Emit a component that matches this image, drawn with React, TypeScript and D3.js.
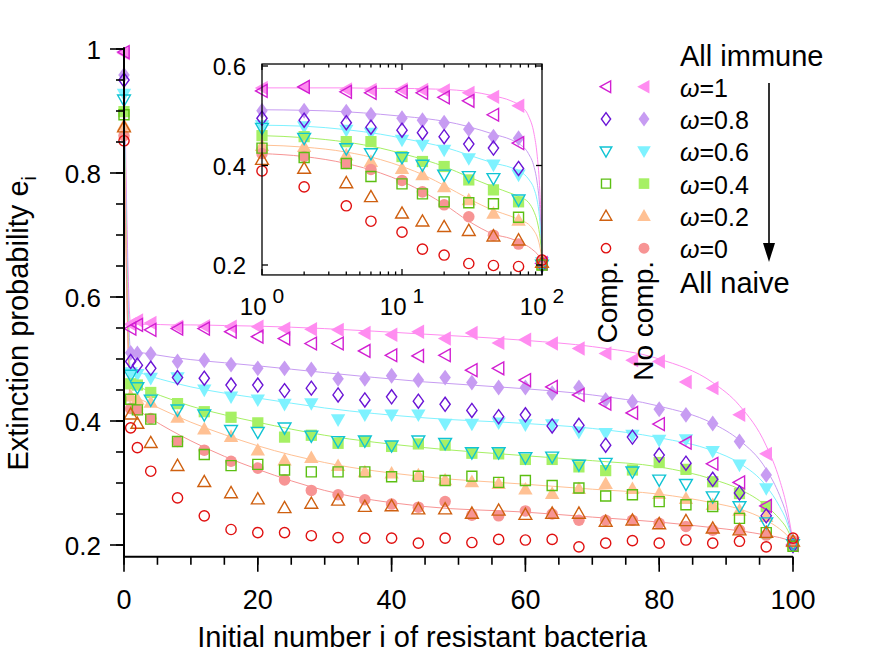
import React from "react";
import * as d3 from "d3";

const width = 875;
const height = 657;
const FONT = "'Liberation Sans', Arial, Helvetica, sans-serif";

// omega values, top (all immune) to bottom (all naive)
const omegaLabels = ["1", "0.8", "0.6", "0.4", "0.2", "0"];
const compColors = ["#d21fd2", "#6a14d6", "#10c4d4", "#5cbf12", "#cf6010", "#e01010"];
const noCompColors = ["#ff8cf0", "#c79cf2", "#7ef2ff", "#a6f064", "#ffc194", "#f79494"];
const compShapes = ["left", "diamond", "down", "square", "up", "circle"];

// main panel, sampled i
const mainI = [0, 1, 2, 4, 8, 12, 16, 20, 24, 28, 32, 36, 40, 44, 48, 52, 56, 60, 64, 68, 72, 76, 80, 84, 88, 92, 96, 100];

const compW1 = [0.995, 0.549, 0.555, 0.547, 0.549, 0.549, 0.544, 0.536, 0.533, 0.525, 0.525, 0.513, 0.506, 0.505, 0.506, 0.482, 0.485, 0.466, 0.455, 0.442, 0.428, 0.413, 0.395, 0.365, 0.331, 0.301, 0.263, 0.2];
const noCompW1 = [0.993, 0.556, 0.562, 0.558, 0.552, 0.553, 0.552, 0.552, 0.549, 0.548, 0.547, 0.542, 0.539, 0.544, 0.533, 0.542, 0.526, 0.531, 0.525, 0.517, 0.509, 0.498, 0.496, 0.463, 0.453, 0.41, 0.347, 0.202];
const compW08 = [0.95, 0.496, 0.49, 0.485, 0.47, 0.469, 0.458, 0.458, 0.449, 0.453, 0.442, 0.434, 0.439, 0.432, 0.427, 0.417, 0.407, 0.41, 0.392, 0.393, 0.361, 0.374, 0.345, 0.332, 0.306, 0.284, 0.247, 0.199];
const noCompW08 = [0.958, 0.51, 0.509, 0.508, 0.496, 0.498, 0.491, 0.485, 0.485, 0.483, 0.468, 0.468, 0.473, 0.466, 0.47, 0.462, 0.454, 0.454, 0.445, 0.454, 0.434, 0.431, 0.419, 0.41, 0.396, 0.367, 0.313, 0.203];
const compW06 = [0.918, 0.474, 0.454, 0.434, 0.418, 0.41, 0.385, 0.382, 0.389, 0.376, 0.367, 0.368, 0.36, 0.368, 0.364, 0.349, 0.349, 0.341, 0.342, 0.329, 0.332, 0.318, 0.305, 0.298, 0.278, 0.262, 0.236, 0.201];
const noCompW06 = [0.927, 0.478, 0.475, 0.469, 0.47, 0.45, 0.439, 0.434, 0.427, 0.428, 0.402, 0.41, 0.41, 0.41, 0.395, 0.395, 0.397, 0.394, 0.394, 0.382, 0.38, 0.377, 0.369, 0.37, 0.351, 0.329, 0.291, 0.204];
const compW04 = [0.894, 0.435, 0.418, 0.403, 0.367, 0.346, 0.328, 0.33, 0.321, 0.318, 0.318, 0.318, 0.31, 0.311, 0.304, 0.311, 0.301, 0.304, 0.296, 0.292, 0.279, 0.281, 0.27, 0.265, 0.262, 0.243, 0.22, 0.198];
const noCompW04 = [0.899, 0.46, 0.458, 0.446, 0.428, 0.415, 0.406, 0.397, 0.374, 0.377, 0.364, 0.367, 0.359, 0.363, 0.361, 0.348, 0.347, 0.338, 0.338, 0.326, 0.32, 0.321, 0.333, 0.322, 0.302, 0.283, 0.262, 0.2];
const compW02 = [0.874, 0.411, 0.396, 0.365, 0.328, 0.302, 0.284, 0.274, 0.26, 0.267, 0.272, 0.262, 0.263, 0.258, 0.258, 0.251, 0.256, 0.249, 0.251, 0.251, 0.238, 0.24, 0.234, 0.239, 0.227, 0.224, 0.22, 0.206];
const noCompW02 = [0.877, 0.44, 0.435, 0.43, 0.406, 0.387, 0.375, 0.353, 0.337, 0.341, 0.328, 0.318, 0.316, 0.313, 0.305, 0.302, 0.299, 0.29, 0.283, 0.291, 0.299, 0.291, 0.283, 0.275, 0.265, 0.256, 0.246, 0.205];
const compW0 = [0.852, 0.389, 0.357, 0.319, 0.276, 0.247, 0.225, 0.22, 0.22, 0.215, 0.212, 0.211, 0.211, 0.203, 0.211, 0.204, 0.209, 0.208, 0.209, 0.197, 0.203, 0.207, 0.203, 0.208, 0.203, 0.206, 0.197, 0.211];
const noCompW0 = [0.86, 0.42, 0.418, 0.404, 0.367, 0.353, 0.335, 0.324, 0.305, 0.288, 0.281, 0.273, 0.266, 0.261, 0.27, 0.248, 0.247, 0.255, 0.25, 0.24, 0.24, 0.24, 0.235, 0.23, 0.224, 0.224, 0.216, 0.207];

// theory curves (no compensation)
const lineI = [0, 1, 2, 4, 7, 10, 15, 20, 30, 45, 60, 70, 80, 88, 92, 96, 98, 99, 100];
const lineW1 = [0.995, 0.556, 0.556, 0.556, 0.555, 0.555, 0.554, 0.553, 0.549, 0.54, 0.53, 0.52, 0.5, 0.462, 0.425, 0.36, 0.305, 0.265, 0.205];
const lineW08 = [0.958, 0.512, 0.511, 0.508, 0.503, 0.499, 0.494, 0.489, 0.478, 0.463, 0.452, 0.442, 0.424, 0.396, 0.369, 0.322, 0.28, 0.25, 0.205];
const lineW06 = [0.927, 0.481, 0.479, 0.472, 0.463, 0.455, 0.445, 0.437, 0.421, 0.405, 0.396, 0.388, 0.373, 0.352, 0.332, 0.295, 0.262, 0.24, 0.205];
const lineW04 = [0.899, 0.46, 0.456, 0.447, 0.435, 0.424, 0.41, 0.398, 0.377, 0.357, 0.344, 0.336, 0.326, 0.306, 0.29, 0.263, 0.242, 0.228, 0.205];
const lineW02 = [0.877, 0.441, 0.437, 0.427, 0.412, 0.398, 0.378, 0.36, 0.333, 0.31, 0.298, 0.29, 0.282, 0.268, 0.258, 0.24, 0.226, 0.217, 0.205];
const lineW0 = [0.86, 0.424, 0.418, 0.404, 0.385, 0.368, 0.343, 0.322, 0.288, 0.262, 0.253, 0.245, 0.237, 0.228, 0.223, 0.216, 0.212, 0.209, 0.205];

// inset (log x)
const insetI = [1, 2, 4, 6, 10, 14, 20, 30, 45, 68, 100];
const insetCompW1 = [0.55, 0.558, 0.548, 0.546, 0.548, 0.546, 0.537, 0.53, 0.502, 0.445, 0.203];
const insetNoCompW1 = [0.556, 0.558, 0.553, 0.552, 0.553, 0.552, 0.551, 0.546, 0.538, 0.52, 0.205];
const insetCompW08 = [0.495, 0.491, 0.486, 0.477, 0.471, 0.466, 0.458, 0.443, 0.435, 0.394, 0.2];
const insetNoCompW08 = [0.51, 0.51, 0.508, 0.502, 0.495, 0.491, 0.486, 0.473, 0.458, 0.455, 0.205];
const insetCompW06 = [0.475, 0.455, 0.434, 0.424, 0.416, 0.401, 0.381, 0.378, 0.374, 0.331, 0.2];
const insetNoCompW06 = [0.48, 0.478, 0.471, 0.465, 0.451, 0.441, 0.431, 0.414, 0.401, 0.381, 0.205];
const insetCompW04 = [0.435, 0.416, 0.404, 0.378, 0.363, 0.343, 0.327, 0.325, 0.323, 0.296, 0.2];
const insetNoCompW04 = [0.46, 0.458, 0.448, 0.448, 0.418, 0.408, 0.398, 0.371, 0.351, 0.327, 0.2];
const insetCompW02 = [0.412, 0.394, 0.365, 0.337, 0.304, 0.288, 0.277, 0.269, 0.258, 0.25, 0.205];
const insetNoCompW02 = [0.44, 0.438, 0.421, 0.408, 0.394, 0.381, 0.357, 0.331, 0.304, 0.29, 0.205];
const insetCompW0 = [0.389, 0.357, 0.319, 0.288, 0.266, 0.232, 0.22, 0.203, 0.199, 0.197, 0.21];
const insetNoCompW0 = [0.424, 0.418, 0.404, 0.392, 0.37, 0.347, 0.321, 0.297, 0.26, 0.242, 0.21];

const mainComp = [compW1, compW08, compW06, compW04, compW02, compW0];
const mainNoComp = [noCompW1, noCompW08, noCompW06, noCompW04, noCompW02, noCompW0];
const lines = [lineW1, lineW08, lineW06, lineW04, lineW02, lineW0];
const insetComp = [insetCompW1, insetCompW08, insetCompW06, insetCompW04, insetCompW02, insetCompW0];
const insetNoComp = [insetNoCompW1, insetNoCompW08, insetNoCompW06, insetNoCompW04, insetNoCompW02, insetNoCompW0];

function shapePath(shape, r) {
  switch (shape) {
    case "left":
      return `M${-r},0L${r * 0.8},${-r}L${r * 0.8},${r}Z`;
    case "down":
      return `M${-r},${-r * 0.75}L${r},${-r * 0.75}L0,${r}Z`;
    case "up":
      return `M${-r},${r * 0.75}L${r},${r * 0.75}L0,${-r}Z`;
    case "diamond":
      return `M0,${-r * 1.1}L${r * 0.8},0L0,${r * 1.1}L${-r * 0.8},0Z`;
    case "square":
      return `M${-r * 0.78},${-r * 0.78}h${r * 1.56}v${r * 1.56}h${-r * 1.56}Z`;
    default:
      return d3.arc()({ innerRadius: 0, outerRadius: r * 0.8, startAngle: 0, endAngle: 2 * Math.PI });
  }
}

function Marker({ shape, cx, cy, r, filled, color }) {
  return (
    <path
      d={shapePath(shape, r)}
      transform={`translate(${cx},${cy})`}
      fill={filled ? color : "none"}
      stroke={filled ? "none" : color}
      strokeWidth={filled ? 0 : 1.4}
    />
  );
}

export default function App() {
  // main panel scales
  const x = d3.scaleLinear().domain([0, 100]).range([124, 793]);
  const y = d3.scaleLinear().domain([0.2, 1]).range([545, 49]);
  const axisY = y(0.181);
  const axisTop = y(1.003);

  // inset scales
  const xi = d3.scaleLog().domain([1, 100]).range([262, 542]);
  const yi = d3.scaleLinear().domain([0.2, 0.6]).range([265, 66]);
  const inTop = yi(0.604);
  const inBottom = yi(0.18);

  const mainLine = d3
    .line()
    .curve(d3.curveMonotoneX)
    .x((d) => x(d[0]))
    .y((d) => y(d[1]));
  const insetLine = d3
    .line()
    .curve(d3.curveMonotoneX)
    .x((d) => xi(d[0]))
    .y((d) => yi(d[1]));

  const yMajor = [0.2, 0.4, 0.6, 0.8, 1];
  const yMinor = d3.range(0.2, 1.001, 0.05);
  const xMajor = x.ticks(5);
  const xMinor = d3.range(0, 101, 5);
  const fmt = d3.format("~g");

  const inYTicks = [0.2, 0.4, 0.6];
  const inXMajor = [1, 10, 100];
  const inXMinor = [1, 10].flatMap((d) => d3.range(2, 10).map((k) => d * k));

  const legendRows = omegaLabels.map((_, k) => 86.7 + k * 32.3);

  return (
    <svg
      width={width}
      height={height}
      viewBox={`0 0 ${width} ${height}`}
      style={{ position: "absolute", left: 0, top: 0, background: "#fff" }}
      fontFamily={FONT}
    >
      <defs>
        <clipPath id="insetClip">
          <rect x={xi(1)} y={inTop} width={xi(100) - xi(1)} height={inBottom - inTop} />
        </clipPath>
      </defs>

      {/* main lines */}
      <g fill="none" strokeWidth={1}>
        {lines.map((vals, k) => (
          <path key={k} d={mainLine(lineI.map((i, j) => [i, vals[j]]))} stroke={noCompColors[k]} />
        ))}
      </g>
      {/* main filled markers (no comp.) */}
      <g>
        {mainNoComp.map((vals, k) =>
          vals.map((v, j) => (
            <Marker key={`${k}-${j}`} shape={compShapes[k]} cx={x(mainI[j])} cy={y(v)} r={7.2} filled color={noCompColors[k]} />
          ))
        )}
      </g>
      {/* main open markers (comp.) */}
      <g>
        {mainComp.map((vals, k) =>
          vals.map((v, j) => (
            <Marker key={`${k}-${j}`} shape={compShapes[k]} cx={x(mainI[j])} cy={y(v)} r={6.4} color={compColors[k]} />
          ))
        )}
      </g>

      {/* main axes */}
      <g stroke="#000">
        <line x1={x(0)} x2={x(0)} y1={axisTop} y2={axisY} strokeWidth={2} />
        <line x1={x(0) - 1} x2={x(100)} y1={axisY} y2={axisY} strokeWidth={2} />
        {yMinor.map((v) => (
          <line key={v} x1={x(0)} x2={x(0) - 8} y1={y(v)} y2={y(v)} strokeWidth={1.6} />
        ))}
        {yMajor.map((v) => (
          <line key={v} x1={x(0)} x2={x(0) - 14} y1={y(v)} y2={y(v)} strokeWidth={1.6} />
        ))}
        {xMinor.map((v) => (
          <line key={v} x1={x(v)} x2={x(v)} y1={axisY} y2={axisY + 8} strokeWidth={1.6} />
        ))}
        {xMajor.map((v) => (
          <line key={v} x1={x(v)} x2={x(v)} y1={axisY} y2={axisY + 15} strokeWidth={1.6} />
        ))}
      </g>
      <g fontSize={26} fill="#000">
        {yMajor.map((v) => (
          <text key={v} x={101} y={y(v) + 10} textAnchor="end">
            {fmt(v)}
          </text>
        ))}
      </g>
      <g fontSize={27} fill="#000">
        {xMajor.map((v) => (
          <text key={v} x={x(v)} y={609} textAnchor="middle">
            {fmt(v)}
          </text>
        ))}
      </g>
      <g fontSize={29} fill="#000">
        <text x={422} y={647} textAnchor="middle">
          Initial number i of resistant bacteria
        </text>
        <text transform="translate(28,176) rotate(-90)" textAnchor="end">
          Extinction probability e
          <tspan dy={8} fontSize={20}>
            i
          </tspan>
        </text>
      </g>

      {/* inset */}
      <rect x={xi(1)} y={inTop} width={xi(100) - xi(1)} height={inBottom - inTop} fill="#fff" />
      <g fill="none" strokeWidth={1} clipPath="url(#insetClip)">
        {lines.map((vals, k) => (
          <path
            key={k}
            d={insetLine(lineI.map((i, j) => [i, vals[j]]).filter((d) => d[0] >= 1))}
            stroke={noCompColors[k]}
          />
        ))}
      </g>
      <g>
        {insetNoComp.map((vals, k) =>
          vals.map((v, j) => (
            <Marker key={`${k}-${j}`} shape={compShapes[k]} cx={xi(insetI[j])} cy={yi(v)} r={7.2} filled color={noCompColors[k]} />
          ))
        )}
      </g>
      <g>
        {insetComp.map((vals, k) =>
          vals.map((v, j) => (
            <Marker key={`${k}-${j}`} shape={compShapes[k]} cx={xi(insetI[j])} cy={yi(v)} r={6.4} color={compColors[k]} />
          ))
        )}
      </g>
      <g stroke="#000" strokeWidth={1.3} fill="none">
        <rect x={xi(1)} y={inTop} width={xi(100) - xi(1)} height={inBottom - inTop} />
        {inYTicks.map((v) => (
          <g key={v}>
            <line x1={xi(1)} x2={xi(1) + 6} y1={yi(v)} y2={yi(v)} />
            <line x1={xi(100)} x2={xi(100) - 6} y1={yi(v)} y2={yi(v)} />
          </g>
        ))}
        {inXMinor.map((v) => (
          <g key={v}>
            <line x1={xi(v)} x2={xi(v)} y1={inBottom} y2={inBottom - 3.5} />
            <line x1={xi(v)} x2={xi(v)} y1={inTop} y2={inTop + 3.5} />
          </g>
        ))}
        {inXMajor.map((v) => (
          <g key={v}>
            <line x1={xi(v)} x2={xi(v)} y1={inBottom} y2={inBottom - 6} />
            <line x1={xi(v)} x2={xi(v)} y1={inTop} y2={inTop + 6} />
          </g>
        ))}
      </g>
      <g fontSize={24} fill="#000">
        {inYTicks.map((v) => (
          <text key={v} x={246} y={yi(v) + 9} textAnchor="end">
            {fmt(v)}
          </text>
        ))}
        {inXMajor.map((v) => (
          <text key={v} x={xi(v)} y={315} textAnchor="middle">
            10
            <tspan dx={6} dy={-12} fontSize={21}>
              {Math.round(Math.log10(v))}
            </tspan>
          </text>
        ))}
      </g>

      {/* legend */}
      <g>
        {legendRows.map((ry, k) => (
          <g key={k}>
            <Marker shape={compShapes[k]} cx={606} cy={ry} r={5.8} color={compColors[k]} />
            <Marker shape={compShapes[k]} cx={644} cy={ry} r={6.8} filled color={noCompColors[k]} />
            <text x={680} y={ry + 10} fontSize={25} fill="#000">
              <tspan fontStyle="italic">ω</tspan>={omegaLabels[k]}
            </text>
          </g>
        ))}
      </g>
      <g fontSize={29} fill="#000">
        <text x={680} y={66}>All immune</text>
        <text x={680} y={293}>All naive</text>
      </g>
      <g fontSize={28} fill="#000">
        <text transform="translate(617,261) rotate(-90)" textAnchor="end">
          Comp.
        </text>
        <text transform="translate(653,261) rotate(-90)" textAnchor="end">
          No comp.
        </text>
      </g>
      <line x1={769} x2={769} y1={83} y2={248} stroke="#000" strokeWidth={1.6} />
      <path d="M763,243L775,243L769,262Z" fill="#000" />
    </svg>
  );
}
